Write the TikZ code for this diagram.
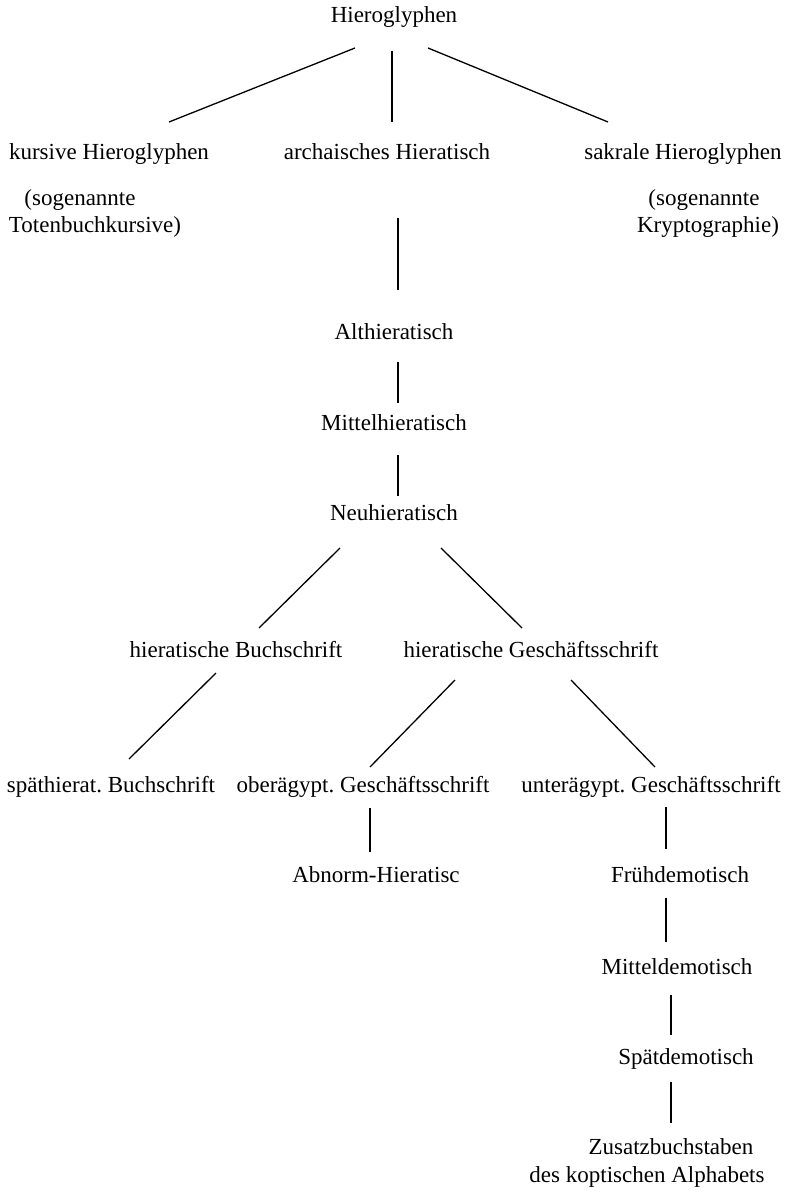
\documentclass[tikz,border=0pt]{standalone}
\usepackage{fontspec}
\setmainfont{Liberation Serif}
\frenchspacing
\begin{document}
\begin{tikzpicture}[x=1pt,y=-1pt,
  lbl/.style={inner sep=0pt,anchor=mid,font=\fontsize{23}{27}\selectfont},
  conn/.style={line width=1.3pt}]
\useasboundingbox (0,0) rectangle (790,1201);
\node[lbl] (H)  at (394,20)  {Hieroglyphen};
\node[lbl] (K)  at (109,157) {kursive Hieroglyphen};
\node[lbl] (A)  at (387,157) {archaisches Hieratisch};
\node[lbl] (S)  at (683,157) {sakrale Hieroglyphen};
\node[lbl] (K1) at (80,203)  {(sogenannte};
\node[lbl] (K2) at (95,230)  {Totenbuchkursive)};
\node[lbl] (S1) at (704,203) {(sogenannte};
\node[lbl] (S2) at (708,230) {Kryptographie)};
\node[lbl] (AH) at (394,337) {Althieratisch};
\node[lbl] (MH) at (394,428) {Mittelhieratisch};
\node[lbl] (NH) at (394,518) {Neuhieratisch};
\node[lbl] (HB) at (236,655) {hieratische Buchschrift};
\node[lbl] (HG) at (531,655) {hieratische Geschäftsschrift};
\node[lbl] (SB) at (111,790) {späthierat. Buchschrift};
\node[lbl] (OG) at (363,790) {oberägypt. Geschäftsschrift};
\node[lbl] (UG) at (651,790) {unterägypt. Geschäftsschrift};
\node[lbl] (AB) at (376,880) {Abnorm-Hieratisc};
\node[lbl] (FD) at (680,880) {Frühdemotisch};
\node[lbl] (MD) at (677,972) {Mitteldemotisch};
\node[lbl] (SD) at (686,1062) {Spätdemotisch};
\node[lbl] (Z1) at (671,1152) {Zusatzbuchstaben};
\node[lbl] (Z2) at (647,1180) {des koptischen Alphabets};
\draw[conn] ([shift={(-39,28)}]H.mid) -- ([shift={(60,-35)}]K.mid);
\draw[conn] ([shift={(-2,31)}]H.mid) -- ([shift={(5,-35)}]A.mid);
\draw[conn] ([shift={(34,28)}]H.mid) -- ([shift={(-75,-35)}]S.mid);
\draw[conn] ([shift={(11,61)}]A.mid) -- ([shift={(4,-47)}]AH.mid);
\draw[conn] ([shift={(4,25)}]AH.mid) -- ([shift={(4,-25)}]MH.mid);
\draw[conn] ([shift={(4,27)}]MH.mid) -- ([shift={(4,-22)}]NH.mid);
\draw[conn] ([shift={(-54,30)}]NH.mid) -- ([shift={(23,-27)}]HB.mid);
\draw[conn] ([shift={(47,30)}]NH.mid) -- ([shift={(-9,-27)}]HG.mid);
\draw[conn] ([shift={(-20,18)}]HB.mid) -- ([shift={(18,-31)}]SB.mid);
\draw[conn] ([shift={(-76,25)}]HG.mid) -- ([shift={(7,-23)}]OG.mid);
\draw[conn] ([shift={(40,25)}]HG.mid) -- ([shift={(4,-23)}]UG.mid);
\draw[conn] ([shift={(7,18)}]OG.mid) -- ([shift={(-6,-28)}]AB.mid);
\draw[conn] ([shift={(15,17)}]UG.mid) -- ([shift={(-14,-31)}]FD.mid);
\draw[conn] ([shift={(-14,18)}]FD.mid) -- ([shift={(-11,-30)}]MD.mid);
\draw[conn] ([shift={(-6,23)}]MD.mid) -- ([shift={(-15,-27)}]SD.mid);
\draw[conn] ([shift={(-15,20)}]SD.mid) -- ([shift={(0,-29)}]Z1.mid);
\end{tikzpicture}
\end{document}
